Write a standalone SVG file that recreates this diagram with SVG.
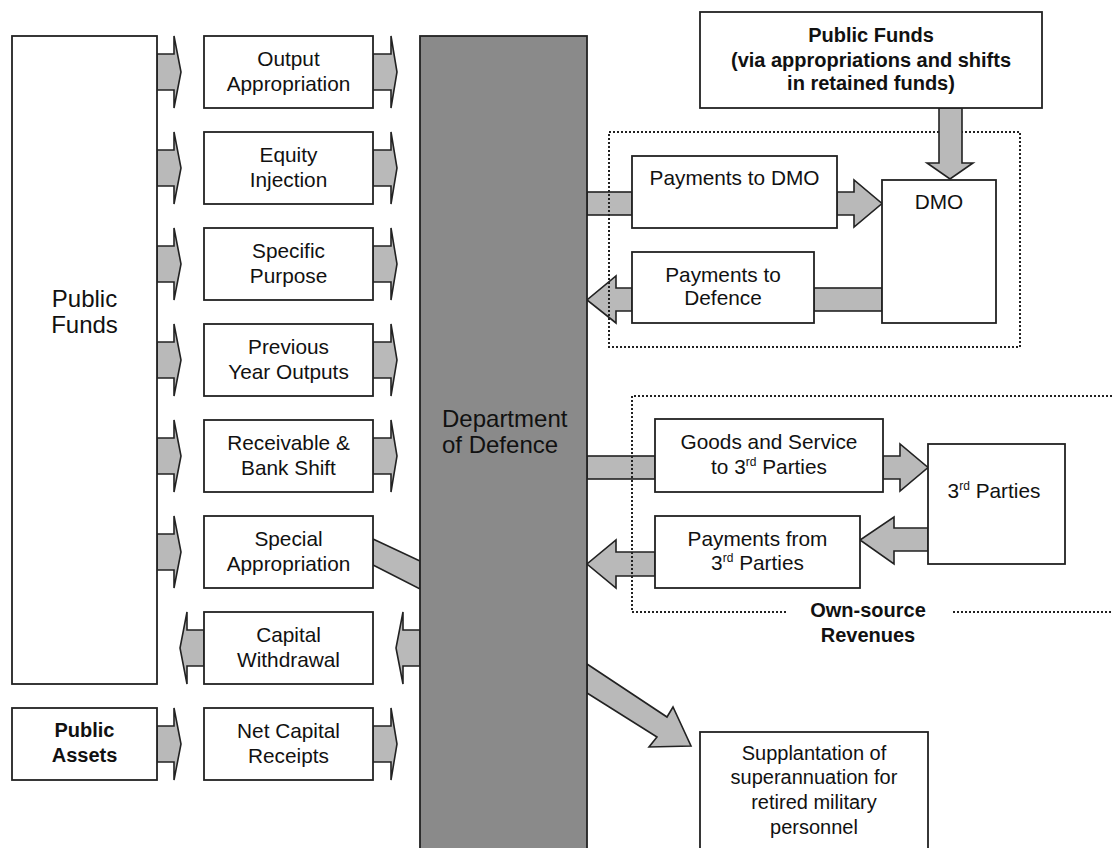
<svg xmlns="http://www.w3.org/2000/svg" width="1112" height="848" viewBox="0 0 1112 848">
<style>
.box{fill:#fff;stroke:#222;stroke-width:1.8}
.bar{fill:#8a8a8a;stroke:#222;stroke-width:1.8}
.arr{fill:#b9b9b9;stroke:#222;stroke-width:1.6;stroke-linejoin:miter}
.dot{fill:none;stroke:#222;stroke-width:2;stroke-dasharray:2 2}
text{font-family:"Liberation Sans",Arial,sans-serif;font-size:20px;fill:#111;text-anchor:middle}
.mid{font-size:20.8px}
.big{font-size:24px}
.b{font-weight:bold}
.sup{font-size:12px}
</style>
<rect width="1112" height="848" fill="#fff"/>

<g id="connectors">
  <polygon class="arr" points="157,54 174,54 174,36 181,72 174,108 174,90 157,90"/>
  <polygon class="arr" points="157,150 174,150 174,132 181,168 174,204 174,186 157,186"/>
  <polygon class="arr" points="157,246 174,246 174,228 181,264 174,300 174,282 157,282"/>
  <polygon class="arr" points="157,342 174,342 174,324 181,360 174,396 174,378 157,378"/>
  <polygon class="arr" points="157,438 174,438 174,420 181,456 174,492 174,474 157,474"/>
  <polygon class="arr" points="157,534 174,534 174,516 181,552 174,588 174,570 157,570"/>
  <polygon class="arr" points="204,630 187,630 187,612 180,648 187,684 187,666 204,666"/>
  <polygon class="arr" points="157,726 174,726 174,708 181,744 174,780 174,762 157,762"/>
  <polygon class="arr" points="373,54 391,54 391,36 397,72 391,108 391,90 373,90"/>
  <polygon class="arr" points="373,150 391,150 391,132 397,168 391,204 391,186 373,186"/>
  <polygon class="arr" points="373,246 391,246 391,228 397,264 391,300 391,282 373,282"/>
  <polygon class="arr" points="373,342 391,342 391,324 397,360 391,396 391,378 373,378"/>
  <polygon class="arr" points="373,438 391,438 391,420 397,456 391,492 391,474 373,474"/>
  <polygon class="arr" points="373,539 420,561 420,589 373,565"/>
  <polygon class="arr" points="420,630 403,630 403,612 396,648 403,684 403,666 420,666"/>
  <polygon class="arr" points="373,726 391,726 391,708 397,744 391,780 391,762 373,762"/>
  <rect class="arr" x="587" y="192" width="45" height="23"/>
  <polygon class="arr" points="837,192 854,192 854,180 882,203.5 854,227 854,215 837,215"/>
  <rect class="arr" x="814" y="288" width="68" height="23"/>
  <polygon class="arr" points="632,288 616,288 616,276 587,300 616,323 616,311 632,311"/>
  <rect class="arr" x="587" y="456" width="68" height="23"/>
  <polygon class="arr" points="883,456 900,456 900,444 928,467.5 900,491 900,479 883,479"/>
  <polygon class="arr" points="928,528 894,528 894,517 860,540 894,564 894,551 928,551"/>
  <polygon class="arr" points="655,552 616,552 616,540 587,564 616,588 616,576 655,576"/>
  <polygon class="arr" points="587,664 667,717 673,707 691,746 649,747 657,737 587,693"/>
</g>

<g id="dotted-dmo"><rect class="dot" x="609" y="132" width="411" height="215"/></g>
<g id="dotted-own-source">
  <path class="dot" d="M1112,396 H632 V612 H788 M953,612 H1112"/>
  <text class="b" x="868" y="617">Own-source</text>
  <text class="b" x="868" y="642">Revenues</text>
</g>

<g id="down-arrow">
  <polygon class="arr" points="939,108 962,108 962,163 973,163 950,179 927,163 939,163"/>
</g>

<g id="public-funds">
  <rect class="box" x="12" y="36" width="145" height="648"/>
  <text class="big" x="84.5" y="307">Public</text>
  <text class="big" x="84.5" y="333">Funds</text>
</g>
<g id="public-assets">
  <rect class="box" x="12" y="708" width="145" height="72"/>
  <text class="b" x="84.5" y="737">Public</text>
  <text class="b" x="84.5" y="762">Assets</text>
</g>

<g id="output-appropriation"><rect class="box" x="204" y="36" width="169" height="72"/>
  <text class="mid" x="288.5" y="66">Output</text><text class="mid" x="288.5" y="91">Appropriation</text></g>
<g id="equity-injection"><rect class="box" x="204" y="132" width="169" height="72"/>
  <text class="mid" x="288.5" y="162">Equity</text><text class="mid" x="288.5" y="187">Injection</text></g>
<g id="specific-purpose"><rect class="box" x="204" y="228" width="169" height="72"/>
  <text class="mid" x="288.5" y="258">Specific</text><text class="mid" x="288.5" y="283">Purpose</text></g>
<g id="previous-year"><rect class="box" x="204" y="324" width="169" height="72"/>
  <text class="mid" x="288.5" y="354">Previous</text><text class="mid" x="288.5" y="379">Year Outputs</text></g>
<g id="receivable"><rect class="box" x="204" y="420" width="169" height="72"/>
  <text class="mid" x="288.5" y="450">Receivable &amp;</text><text class="mid" x="288.5" y="475">Bank Shift</text></g>
<g id="special-appropriation"><rect class="box" x="204" y="516" width="169" height="72"/>
  <text class="mid" x="288.5" y="546">Special</text><text class="mid" x="288.5" y="571">Appropriation</text></g>
<g id="capital-withdrawal"><rect class="box" x="204" y="612" width="169" height="72"/>
  <text class="mid" x="288.5" y="642">Capital</text><text class="mid" x="288.5" y="667">Withdrawal</text></g>
<g id="net-capital"><rect class="box" x="204" y="708" width="169" height="72"/>
  <text class="mid" x="288.5" y="738">Net Capital</text><text class="mid" x="288.5" y="763">Receipts</text></g>

<g id="defence">
  <rect class="bar" x="420" y="36" width="167" height="830"/>
  <text class="big" x="442" y="427" style="text-anchor:start">Department</text>
  <text class="big" x="442" y="453" style="text-anchor:start">of Defence</text>
</g>

<g id="public-funds-top">
  <rect class="box" x="700" y="12" width="342" height="96"/>
  <text class="b" x="871" y="42">Public Funds</text>
  <text class="b" x="871" y="67">(via appropriations and shifts</text>
  <text class="b" x="871" y="90">in retained funds)</text>
</g>

<g id="payments-to-dmo"><rect class="box" x="632" y="156" width="205" height="72"/>
  <text class="mid" x="734.5" y="185">Payments to DMO</text></g>
<g id="dmo"><rect class="box" x="882" y="180" width="114" height="143"/>
  <text class="mid" x="939" y="209">DMO</text></g>
<g id="payments-to-defence"><rect class="box" x="632" y="252" width="182" height="71"/>
  <text class="mid" x="723" y="282">Payments to</text><text class="mid" x="723" y="305">Defence</text></g>

<g id="goods-and-service"><rect class="box" x="655" y="419" width="228" height="73"/>
  <text class="mid" x="769" y="449">Goods and Service</text>
  <text class="mid" x="769" y="474">to 3<tspan class="sup" dy="-8">rd</tspan><tspan dy="8"> Parties</tspan></text></g>
<g id="third-parties"><rect class="box" x="928" y="444" width="137" height="120"/>
  <text class="mid" x="994" y="498">3<tspan class="sup" dy="-8">rd</tspan><tspan dy="8"> Parties</tspan></text></g>
<g id="payments-from"><rect class="box" x="655" y="516" width="205" height="72"/>
  <text class="mid" x="757.5" y="546">Payments from</text>
  <text class="mid" x="757.5" y="570">3<tspan class="sup" dy="-8">rd</tspan><tspan dy="8"> Parties</tspan></text></g>

<g id="supplantation"><rect class="box" x="700" y="732" width="228" height="130"/>
  <text x="814" y="760">Supplantation of</text>
  <text x="814" y="784">superannuation for</text>
  <text x="814" y="809">retired military</text>
  <text x="814" y="834">personnel</text></g>
</svg>
